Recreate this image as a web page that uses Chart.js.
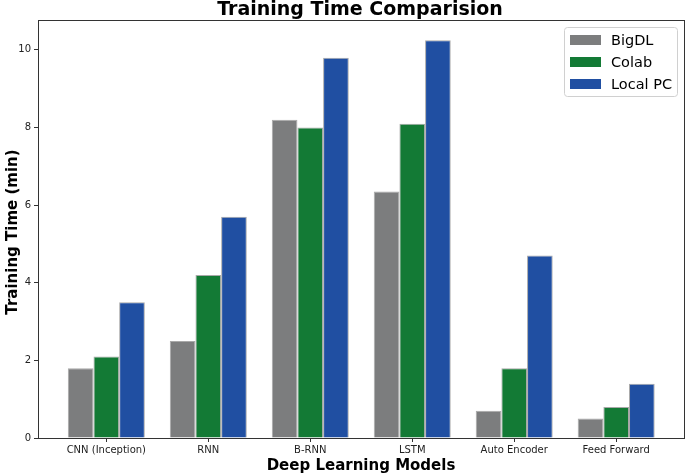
<!DOCTYPE html>
<html>
<head>
<meta charset="utf-8">
<title>Training Time Comparision</title>
<script src="https://cdn.jsdelivr.net/npm/chart.js@4.4.1/dist/chart.umd.min.js"></script>
<style>
    html, body { margin: 0; padding: 0; background: #fff; }
    #wrap { width: 685px; height: 474px; position: relative; }
</style>
</head>
<body>
<div id="wrap"><canvas id="timeChart"></canvas></div>
<script>
// Chart data
const models = ['CNN (Inception)', 'RNN', 'B-RNN', 'LSTM', 'Auto Encoder', 'Feed Forward'];
const bigdlTimes = [1.8, 2.5, 8.2, 6.35, 0.7, 0.5];
const colabTimes = [2.1, 4.2, 8.0, 8.1, 1.8, 0.8];
const localTimes = [3.5, 5.7, 9.8, 10.25, 4.7, 1.4];
const yTicks = [0, 2, 4, 6, 8, 10];

const FONT = "'DejaVu Sans', sans-serif";

function toPoints(values) {
    return values.map((v, i) => ({ x: i, y: v }));
}

// Frame, title, axis titles and legend drawn matplotlib-style
const decorations = {
    id: 'decorations',
    afterDraw(chart) {
        const ctx = chart.ctx;
        const area = chart.chartArea;
        ctx.save();

        // axes box
        ctx.strokeStyle = '#333';
        ctx.lineWidth = 1;
        ctx.strokeRect(area.left + 0.5, area.top + 0.5, area.right - area.left, area.bottom - area.top);

        // title
        ctx.fillStyle = '#000';
        ctx.textAlign = 'center';
        ctx.textBaseline = 'alphabetic';
        ctx.font = 'bold 19px ' + FONT;
        ctx.fillText('Training Time Comparision', 360, 15);

        // axis titles
        ctx.font = 'bold 15px ' + FONT;
        ctx.fillText('Deep Learning Models', 361, 470);
        ctx.save();
        ctx.translate(17, (area.top + area.bottom) / 2 + 3);
        ctx.rotate(-Math.PI / 2);
        ctx.fillText('Training Time (min)', 0, 0);
        ctx.restore();

        // legend
        const lx = 564, ly = 27, lw = 113, lh = 69;
        ctx.fillStyle = 'rgba(255,255,255,0.8)';
        ctx.strokeStyle = '#d0d0d0';
        ctx.beginPath();
        ctx.roundRect(lx + 0.5, ly + 0.5, lw, lh, 3);
        ctx.fill();
        ctx.stroke();
        ctx.font = '14.5px ' + FONT;
        ctx.textAlign = 'left';
        ctx.textBaseline = 'middle';
        chart.data.datasets.forEach((ds, i) => {
            const y = ly + 13 + i * 22;
            ctx.fillStyle = ds.backgroundColor;
            ctx.fillRect(lx + 6, y - 5, 31, 10);
            ctx.fillStyle = '#000';
            ctx.fillText(ds.label, lx + 47, y + 1);
        });

        ctx.restore();
    }
};

const ctx = document.getElementById('timeChart').getContext('2d');
new Chart(ctx, {
    type: 'bar',
    data: {
        datasets: [
            { label: 'BigDL', data: toPoints(bigdlTimes), backgroundColor: '#7c7d7e' },
            { label: 'Colab', data: toPoints(colabTimes), backgroundColor: '#137a35' },
            { label: 'Local PC', data: toPoints(localTimes), backgroundColor: '#204fa2' }
        ].map(ds => Object.assign(ds, {
            borderColor: '#a9a9a9',
            borderWidth: 1,
            borderSkipped: 'bottom',
            categoryPercentage: 0.755,
            barPercentage: 1.0
        }))
    },
    options: {
        responsive: true,
        maintainAspectRatio: false,
        animation: false,
        layout: { padding: { left: 0, right: 1, top: 20, bottom: 0 } },
        scales: {
            x: {
                type: 'linear',
                offset: false,
                min: -0.67,
                max: 5.665,
                grid: { offset: false, drawOnChartArea: false, tickLength: 4, color: '#333' },
                border: { display: false },
                afterBuildTicks: scale => { scale.ticks = models.map((m, i) => ({ value: i })); },
                afterFit: scale => { scale.height = 36; },
                ticks: {
                    autoSkip: false,
                    maxRotation: 0,
                    padding: 2,
                    color: '#222',
                    font: { family: FONT, size: 10 },
                    callback: value => models[value]
                }
            },
            y: {
                min: 0,
                max: 10.77,
                grid: { drawOnChartArea: false, tickLength: 4, color: '#333' },
                border: { display: false },
                afterBuildTicks: scale => { scale.ticks = yTicks.map(v => ({ value: v })); },
                afterFit: scale => { scale.width = 38; },
                ticks: {
                    padding: 3,
                    color: '#222',
                    font: { family: FONT, size: 10 }
                }
            }
        },
        plugins: {
            legend: { display: false },
            title: { display: false },
            tooltip: { enabled: false }
        }
    },
    plugins: [decorations]
});
</script>
</body>
</html>
